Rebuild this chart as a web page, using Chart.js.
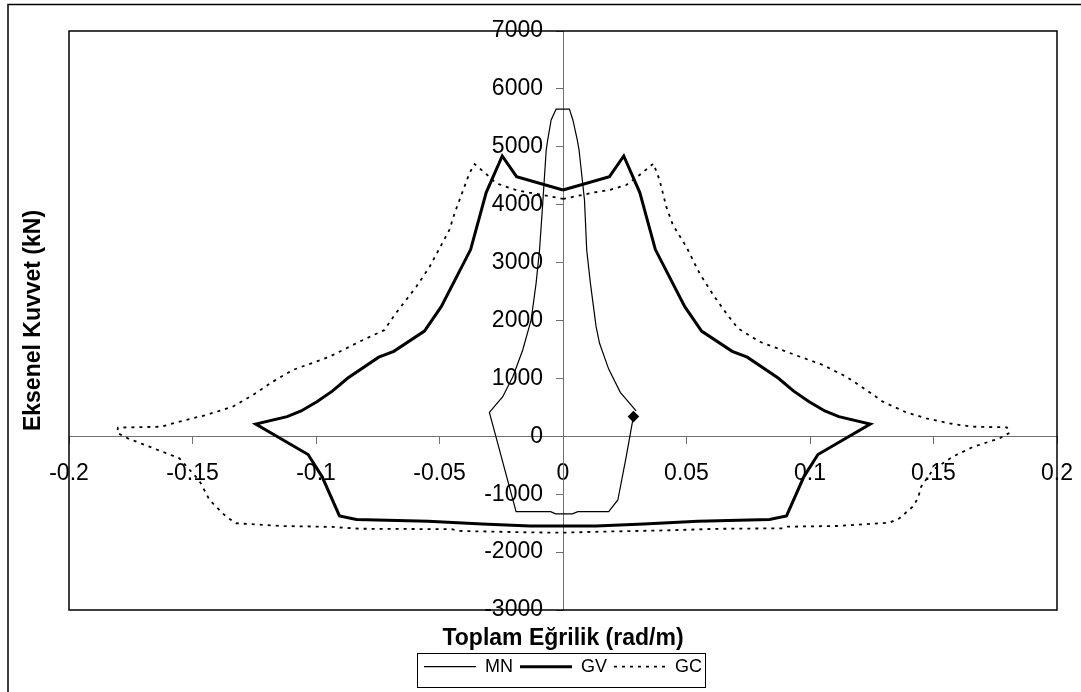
<!DOCTYPE html>
<html>
<head>
<meta charset="utf-8">
<script src="https://cdn.jsdelivr.net/npm/chart.js@4/dist/chart.umd.min.js"></script>
<style>
html,body{margin:0;padding:0;background:#fff;}
#wrap{position:relative;width:1081px;height:692px;}
</style>
</head>
<body>
<div id="wrap"><canvas id="c" width="1081" height="692"></canvas></div>
<script>
// ---- tick labels ----
const xTicks = [-0.2, -0.15, -0.1, -0.05, 0, 0.05, 0.1, 0.15, 0.2];
const yTicks = [-3000, -2000, -1000, 0, 1000, 2000, 3000, 4000, 5000, 6000, 7000];

// ---- series names ----
const seriesNames = ['MN', 'GV', 'GC'];

// ---- MN (thin line) ----
const mnX = [0.0285, 0.0256, 0.0222, 0.0185, 0.0060, 0.0038, -0.0030, -0.0050, -0.0190, -0.0298,
  -0.0244, -0.0203, -0.0163, -0.0129, -0.0109, -0.0095, -0.0082, -0.0068, -0.0062, -0.0048, -0.0028,
  0.0026, 0.0040, 0.0058, 0.0065, 0.0087, 0.0096, 0.0111, 0.0134, 0.0148, 0.0185, 0.0232, 0.0296];
const mnY = [340, -352, -1100, -1302, -1302, -1340, -1340, -1302, -1302, 414,
  684, 1029, 1490, 2009, 2642, 3217, 4024, 4944, 5117, 5463, 5650,
  5650, 5463, 5117, 4944, 4081, 3217, 2642, 1893, 1606, 1160, 760, 440];

// ---- GV (thick line) ----
const gvX = [0, 0.0188, 0.0246, 0.0311, 0.0374, 0.0493, 0.0561, 0.0685, 0.0746, 0.0871, 0.0934, 0.0995,
  0.1060, 0.1117, 0.1244, 0.1032, 0.0975, 0.0905, 0.0836, 0.0546, 0.0327, 0.0134, 0,
  -0.0134, -0.0327, -0.0546, -0.0836, -0.0905, -0.0975, -0.1032, -0.1244, -0.1117, -0.1060, -0.0995,
  -0.0934, -0.0871, -0.0746, -0.0685, -0.0561, -0.0493, -0.0374, -0.0311, -0.0246, -0.0188, 0];
const gvY = [4254, 4484, 4841, 4210, 3225, 2238, 1818, 1467, 1366, 1007, 780, 600,
  438, 339, 210, -315, -700, -1376, -1436, -1466, -1515, -1550, -1550,
  -1550, -1515, -1466, -1436, -1376, -700, -315, 210, 339, 438, 600,
  780, 1007, 1366, 1467, 1818, 2238, 3225, 4210, 4841, 4484, 4254];

// ---- GC (dotted line) ----
const gcX = [0, 0.0121, 0.0188, 0.0256, 0.0310, 0.0366,
  0.0391, 0.0418, 0.0445, 0.0499, 0.0553, 0.0613, 0.0661, 0.0708, 0.0796, 0.0904, 0.1052, 0.1147, 0.1228,
  0.1295, 0.1389, 0.1470, 0.1578, 0.1659, 0.1797, 0.1808, 0.1767, 0.1659, 0.1578, 0.1497, 0.1450, 0.1437,
  0.1416, 0.1362, 0.1322, 0.1106, 0.0904, 0.0890, 0.0620, 0.0420, 0.0148, 0,
  -0.0149, -0.0419, -0.0450, -0.0824, -0.0906, -0.0932, -0.1144, -0.1323, -0.1364, -0.1431, -0.1472,
  -0.1553, -0.1762, -0.1805, -0.1802,
  -0.1627, -0.1553, -0.1445, -0.1337, -0.1249, -0.1175, -0.1094, -0.0945, -0.0824, -0.0723, -0.0682,
  -0.0594, -0.0540, -0.0460, -0.0439, -0.0379, -0.0358,
  -0.0311, -0.0270, -0.0188, -0.0082, 0];
const gcY = [4100, 4207, 4254, 4340, 4513, 4710,
  4426, 3966, 3649, 3274, 2815, 2411, 2124, 1865, 1634, 1461, 1231, 1029, 800,
  598, 414, 311, 212, 166, 155, 60, -35, -185, -352, -582, -870, -1070,
  -1216, -1416, -1492, -1549, -1561, -1589, -1598, -1625, -1647, -1665,
  -1658, -1635, -1605, -1596, -1575, -1565, -1549, -1502, -1388, -1100, -770,
  -380, -35, 60, 150,
  166, 252, 368, 511, 731, 943, 1145, 1375, 1634, 1836, 2095,
  2584, 2929, 3563, 3851, 4542, 4702,
  4530, 4369, 4250, 4167, 4100];

const FONT = "'Liberation Sans', Arial, Helvetica, sans-serif";
const Y_TICK_LEN = 7;
const Y_LABEL_PAD = 13;

function pts(xs, ys) { return xs.map((x, i) => ({ x: x, y: ys[i] })); }
function fmtX(v) { return String(Number(Number(v).toFixed(3))); }
function fmtY(v) { return String(Math.round(v)); }

const lineStyles = [
  { width: 1.2, dash: [] },
  { width: 3, dash: [] },
  { width: 1.8, dash: [3, 5] }
];

// y labels of a crossing axis sit on the axis line in Chart.js; move them left of the tick marks
const yLabelShift = {
  id: 'yLabelShift',
  beforeDraw(chart) {
    const s = chart.scales.y;
    const items = s.getLabelItems();
    if (!items._shifted) {
      items.forEach(it => { it.options.translation[0] -= (Y_TICK_LEN + Y_LABEL_PAD); });
      items._shifted = true;
    }
  }
};

const framePlugin = {
  id: 'frame',
  afterDraw(chart) {
    const ctx = chart.ctx;
    const a = chart.chartArea;
    ctx.save();
    ctx.setLineDash([]);
    ctx.strokeStyle = '#000';
    ctx.lineWidth = 1.5;
    ctx.strokeRect(a.left, a.top, a.right - a.left, a.bottom - a.top);
    ctx.beginPath();
    ctx.moveTo(8, chart.height + 10);
    ctx.lineTo(8, 4.5);
    ctx.lineTo(chart.width + 10, 4.5);
    ctx.stroke();
    const lg = chart.legend;
    if (lg && lg.legendHitBoxes && lg.legendHitBoxes.length) {
      const hb = lg.legendHitBoxes;
      const first = hb[0], last = hb[hb.length - 1];
      const cy = first.top + first.height / 2;
      const l = first.left - 7, r = last.left + last.width + 3;
      const t = cy - 14, b = cy + 20;
      ctx.lineWidth = 1;
      ctx.strokeRect(Math.round(l) + 0.5, Math.round(t) + 0.5, Math.round(r - l), Math.round(b - t));
    }
    ctx.restore();
  }
};

new Chart(document.getElementById('c'), {
  type: 'scatter',
  data: {
    datasets: [
      {
        label: seriesNames[0], data: pts(mnX, mnY), showLine: true, tension: 0,
        borderColor: '#000', borderWidth: lineStyles[0].width,
        pointStyle: 'rectRot', pointBackgroundColor: '#000', pointBorderColor: '#000',
        pointRadius: c => (c.dataIndex === 0 ? 5 : 0), pointHoverRadius: c => (c.dataIndex === 0 ? 5 : 0)
      },
      {
        label: seriesNames[1], data: pts(gvX, gvY), showLine: true, tension: 0,
        borderColor: '#000', borderWidth: lineStyles[1].width, pointRadius: 0, pointHoverRadius: 0,
        borderJoinStyle: 'miter'
      },
      {
        label: seriesNames[2], data: pts(gcX, gcY), showLine: true, tension: 0,
        borderColor: '#000', borderWidth: lineStyles[2].width, borderDash: lineStyles[2].dash,
        pointRadius: 0, pointHoverRadius: 0
      }
    ]
  },
  options: {
    responsive: false,
    animation: false,
    events: [],
    layout: { padding: { left: 0, right: 24, top: 31, bottom: 6.3 } },
    scales: {
      x: {
        type: 'linear', min: -0.2, max: 0.2, position: { y: 0 },
        afterFit: s => { s.height = 0; s.paddingLeft = 0; s.paddingRight = 0; },
        afterBuildTicks: s => { s.ticks = xTicks.map(v => ({ value: v })); },
        ticks: {
          autoSkip: false, maxRotation: 0, minRotation: 0, padding: 17, color: '#000',
          font: { family: FONT, size: 23 }, callback: v => fmtX(v)
        },
        grid: { drawOnChartArea: false, drawTicks: true, tickLength: 7, tickColor: '#707070', color: '#707070' },
        border: { display: true, color: '#707070', width: 1 }
      },
      y: {
        type: 'linear', min: -3000, max: 7000, position: { x: 0 },
        afterFit: s => { s.width = 0; s.paddingTop = 0; s.paddingBottom = 0; },
        afterBuildTicks: s => { s.ticks = yTicks.map(v => ({ value: v })); },
        ticks: {
          autoSkip: false, padding: Y_LABEL_PAD, color: '#000',
          font: { family: FONT, size: 23 }, callback: v => fmtY(v)
        },
        grid: { drawOnChartArea: false, drawTicks: true, tickLength: Y_TICK_LEN, tickColor: '#707070', color: '#707070' },
        border: { display: true, color: '#707070', width: 1 }
      }
    },
    plugins: {
      tooltip: { enabled: false },
      title: {
        display: true, position: 'left', fullSize: false, text: 'Eksenel Kuvvet (kN)', color: '#000',
        font: { family: FONT, size: 23, weight: 'bold', lineHeight: 1 },
        padding: { top: 22.3, bottom: 23.7 }
      },
      subtitle: {
        display: true, position: 'bottom', fullSize: false, weight: 500, text: 'Toplam Eğrilik (rad/m)', color: '#000',
        font: { family: FONT, size: 23, weight: 'bold', lineHeight: 1 },
        padding: { top: 16.8, bottom: 0.9 }
      },
      legend: {
        display: true, position: 'bottom', fullSize: false, weight: 1000,
        labels: {
          color: '#000', font: { family: FONT, size: 18 }, padding: 7,
          usePointStyle: true, pointStyleWidth: 52, boxHeight: 18,
          generateLabels: chart => chart.data.datasets.map((ds, i) => ({
            text: ds.label, datasetIndex: i, pointStyle: 'line',
            strokeStyle: '#000', fillStyle: '#000', fontColor: '#000',
            lineWidth: lineStyles[i].width, lineDash: lineStyles[i].dash, hidden: false
          }))
        }
      }
    }
  },
  plugins: [yLabelShift, framePlugin]
});
</script>
</body>
</html>
